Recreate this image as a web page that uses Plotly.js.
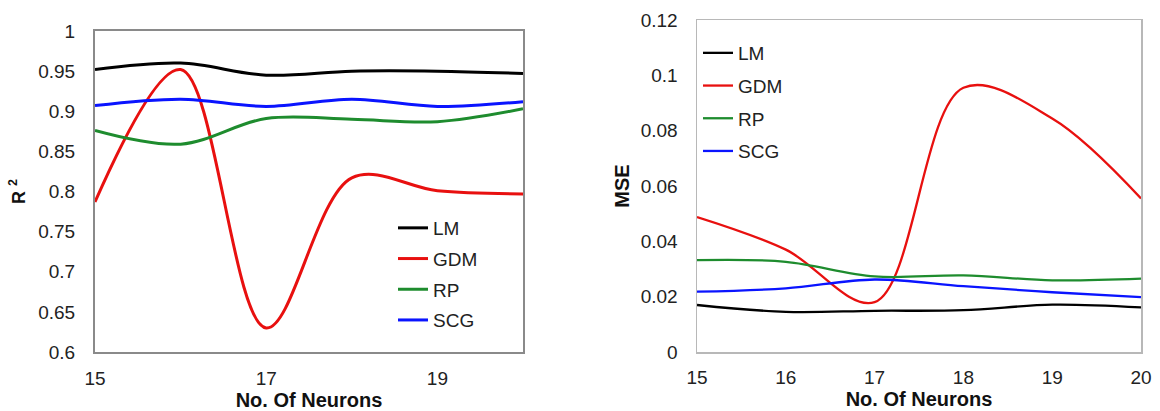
<!DOCTYPE html>
<html>
<head>
<meta charset="utf-8">
<script src="https://cdn.plot.ly/plotly-3.0.1.min.js"></script>
<style>html,body{margin:0;padding:0;background:#fff;}#chart{width:1160px;height:411px;}</style>
</head>
<body>
<div id="chart"></div>
<script>
// Shared x values (number of neurons)
var neurons = [15, 16, 17, 18, 19, 20];
var seriesNames = ['LM', 'GDM', 'RP', 'SCG'];

// Left panel: R^2
var r2LM  = [0.952, 0.960, 0.945, 0.950, 0.950, 0.947];
var r2GDM = [0.787, 0.952, 0.630, 0.817, 0.801, 0.797];
var r2RP  = [0.876, 0.859, 0.891, 0.890, 0.887, 0.903];
var r2SCG = [0.907, 0.915, 0.906, 0.915, 0.906, 0.912];

// Right panel: MSE
var mseLM  = [0.0170, 0.0145, 0.0149, 0.0151, 0.0171, 0.0161];
var mseGDM = [0.0488, 0.0370, 0.0180, 0.0955, 0.0844, 0.0555];
var mseRP  = [0.0332, 0.0326, 0.0273, 0.0277, 0.0259, 0.0265];
var mseSCG = [0.0218, 0.0230, 0.0262, 0.0238, 0.0216, 0.0198];

var leftXTicks = [15, 17, 19];
var rightXTicks = [15, 16, 17, 18, 19, 20];

var colors = ['#000000', '#e8100f', '#1e8c2e', '#0a14ff'];
var FONT = '"Liberation Sans", Arial, sans-serif';

var leftData = [r2LM, r2GDM, r2RP, r2SCG];
var rightData = [mseLM, mseGDM, mseRP, mseSCG];

var traces = [];
leftData.forEach(function (ys, i) {
  traces.push({
    x: neurons, y: ys, name: seriesNames[i], type: 'scatter', mode: 'lines',
    line: {color: colors[i], width: 3, shape: 'spline', smoothing: 1},
    xaxis: 'x', yaxis: 'y', legend: 'legend', legendgroup: 'L' + i
  });
});
rightData.forEach(function (ys, i) {
  traces.push({
    x: neurons, y: ys, name: seriesNames[i], type: 'scatter', mode: 'lines',
    line: {color: colors[i], width: 2.3, shape: 'spline', smoothing: 1},
    xaxis: 'x2', yaxis: 'y2', legend: 'legend2', legendgroup: 'R' + i
  });
});

var tickFont = {family: FONT, size: 19, color: '#222'};
var titleFont = {family: FONT, size: 20, color: '#111', weight: 'bold'};

var layout = {
  width: 1160, height: 411,
  margin: {l: 0, r: 0, t: 0, b: 0},
  paper_bgcolor: '#fff', plot_bgcolor: '#fff',
  showlegend: true,
  xaxis: {
    domain: [95/1160, 523/1160], range: [15, 20], tickvals: leftXTicks,
    showgrid: false, zeroline: false, showline: true, mirror: true,
    linecolor: '#8a8a8a', linewidth: 2, ticks: '', tickfont: tickFont,
    ticklabelstandoff: 8, automargin: false,
    title: {text: 'No. Of Neurons', font: titleFont, standoff: 10}
  },
  yaxis: {
    domain: [59/411, 380/411], range: [0.6, 1], dtick: 0.05, tick0: 0.6,
    showgrid: false, zeroline: false, showline: true, mirror: true,
    linecolor: '#8a8a8a', linewidth: 2, ticks: '', tickfont: tickFont,
    ticklabelstandoff: 14, automargin: false,
    title: {text: 'R <sup>2</sup>', font: {family: FONT, size: 18, color: '#111', weight: 'bold'}, standoff: 8}
  },
  xaxis2: {
    domain: [697/1160, 1141/1160], range: [15, 20], tickvals: rightXTicks, anchor: 'y2',
    showgrid: false, zeroline: false, showline: true, mirror: true,
    linecolor: '#b8b8b8', linewidth: 1.5, ticks: '', tickfont: tickFont,
    ticklabelstandoff: 8, automargin: false,
    title: {text: 'No. Of Neurons', font: titleFont, standoff: 0}
  },
  yaxis2: {
    domain: [59/411, 391/411], range: [0, 0.12], dtick: 0.02, tick0: 0, anchor: 'x2',
    showgrid: false, zeroline: false, showline: true, mirror: true,
    linecolor: '#b8b8b8', linewidth: 1.5, ticks: '', tickfont: tickFont,
    ticklabelstandoff: 14, automargin: false,
    title: {text: 'MSE', font: titleFont, standoff: 5}
  },
  legend: {
    x: 393/1160, y: 1 - 209/411, xanchor: 'left', yanchor: 'top',
    bgcolor: 'rgba(0,0,0,0)', borderwidth: 0,
    font: {family: FONT, size: 19, color: '#222'},
    traceorder: 'grouped', tracegroupgap: 3, itemwidth: 30
  },
  legend2: {
    x: 698/1160, y: 1 - 34/411, xanchor: 'left', yanchor: 'top',
    bgcolor: 'rgba(0,0,0,0)', borderwidth: 0,
    font: {family: FONT, size: 19, color: '#222'},
    traceorder: 'grouped', tracegroupgap: 5, itemwidth: 30
  }
};

Plotly.newPlot('chart', traces, layout, {displayModeBar: false, staticPlot: true});
</script>
</body>
</html>
